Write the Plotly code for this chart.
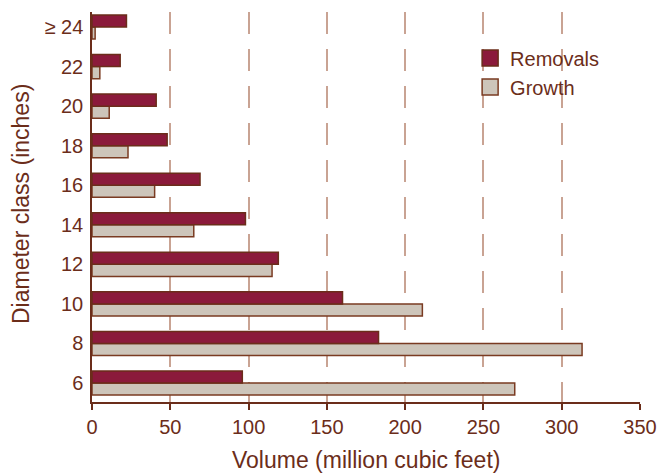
import plotly.graph_objects as go

# diameter classes, bottom to top
classes = ["6", "8", "10", "12", "14", "16", "18", "20", "22", "≥ 24"]
removals = [96, 183, 160, 119, 98, 69, 48, 41, 18, 22]
growth = [270, 313, 211, 115, 65, 40, 23, 11, 5, 2]
xticks = [0, 50, 100, 150, 200, 250, 300, 350]

txt = "#6b2d1a"
rem_fill, rem_line = "#8b1a3b", "#6b2d1a"
gro_fill, gro_line = "#cdc5ba", "#7a3b22"

fig = go.Figure()
# growth first so removals sits on top of each pair
fig.add_trace(go.Bar(y=classes, x=growth, name="Growth", orientation="h", showlegend=False,
                     marker=dict(color=gro_fill, line=dict(color=gro_line, width=1.5))))
fig.add_trace(go.Bar(y=classes, x=removals, name="Removals", orientation="h", showlegend=False,
                     marker=dict(color=rem_fill, line=dict(color=rem_line, width=1.5))))
# bigger square legend keys
for name, fc, lc in [("Removals", rem_fill, rem_line), ("Growth", gro_fill, gro_line)]:
    fig.add_trace(go.Scatter(x=[None], y=[None], mode="markers", name=name,
                             marker=dict(symbol="square", size=16, color=fc,
                                         line=dict(color=lc, width=1.5))))

fig.update_layout(
    width=659, height=475,
    margin=dict(l=92, r=19, t=12, b=73),
    plot_bgcolor="white", paper_bgcolor="white",
    barmode="group", bargap=0.39, bargroupgap=0,
    font=dict(family="Liberation Sans, Arial, sans-serif", color=txt, size=20),
    legend=dict(x=0.69, y=0.932, xanchor="left", yanchor="top",
                font=dict(size=20), bgcolor="rgba(0,0,0,0)", tracegroupgap=0),
    annotations=[
        # axis titles, positioned in paper units from pixel positions
        dict(text="Volume (million cubic feet)", x=(366 - 92) / 548, y=(402 - 460) / 390,
             xref="paper", yref="paper", xanchor="center", yanchor="middle",
             showarrow=False, font=dict(size=23)),
        dict(text="Diameter class (inches)", x=(21 - 92) / 548, y=(402 - 204) / 390,
             xref="paper", yref="paper", xanchor="center", yanchor="middle",
             showarrow=False, font=dict(size=23), textangle=-90),
    ],
)

fig.update_xaxes(range=[0, 350], tickvals=xticks, automargin=False,
                 showgrid=True, gridcolor="#c9a393", gridwidth=1.5, griddash="22px,15px",
                 showline=True, linecolor=txt, linewidth=1.5,
                 ticks="outside", ticklen=6, tickcolor=txt, tickwidth=1.5,
                 zeroline=False)
fig.update_yaxes(type="category", categoryarray=classes, range=[-0.48, 9.38], automargin=False,
                 showgrid=False, showline=True, linecolor=txt, linewidth=1.5,
                 ticks="", ticklabelstandoff=3)

# page body has a default 8px margin; drop it so the figure fills the window
fig.write_html("out.html", config={"displayModeBar": False},
               post_script="document.body.style.margin='0px';")
